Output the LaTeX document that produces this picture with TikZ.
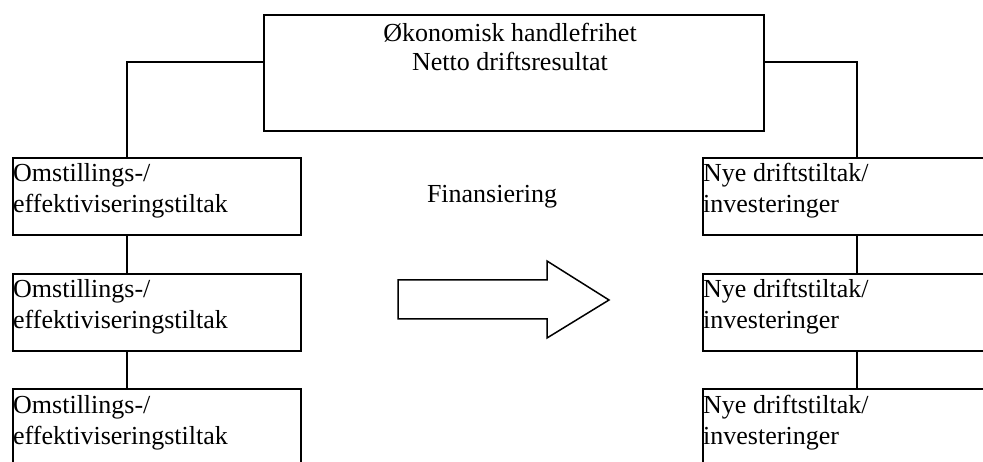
\documentclass[tikz,border=0pt]{standalone}
\usepackage{fontspec}
\setmainfont{Liberation Serif}
\begin{document}
\begin{tikzpicture}[x=1pt, y=-1pt,
    boxed/.style={draw, line width=1.7pt, rectangle, inner sep=0pt,
      minimum width=288pt, minimum height=77pt, anchor=north west},
    label/.style={inner sep=0pt, font=\fontsize{26}{31}\selectfont},
    link/.style={line width=1.5pt}]
  \useasboundingbox (0,0) rectangle (983,462);
  \clip (0,0) rectangle (983,462);

  % top box (the base anchor of a two-line label sits on its last line)
  \node[boxed, minimum width=500pt, minimum height=116pt] (top) at (263,14) {};
  \node[label, align=center, anchor=base,
        font=\fontsize{26}{29}\selectfont] (toptext) at (510,71)
    {Økonomisk handlefrihet\\Netto driftsresultat};

  % left column
  \foreach \i/\y in {1/157, 2/273, 3/388} {
    \node[boxed] (l\i) at (12,\y) {};
    \node[label, align=left, anchor=base west] (lt\i) at (13,\y+56)
      {Omstillings-/\\effektiviseringstiltak};
  }

  % right column
  \foreach \i/\y in {1/157, 2/273, 3/388} {
    \node[boxed] (r\i) at (702,\y) {};
    \node[label, align=left, anchor=base west] (rt\i) at (703,\y+56)
      {Nye driftstiltak/\\investeringer};
  }

  % connectors
  \draw[link] ([yshift=-48pt]top.north west) -| ([xshift=115pt]l1.north west);
  \draw[link] ([xshift=115pt]l1.south west) -- ([xshift=115pt]l2.north west);
  \draw[link] ([xshift=115pt]l2.south west) -- ([xshift=115pt]l3.north west);
  \draw[link] ([yshift=-48pt]top.north east) -| ([xshift=155pt]r1.north west);
  \draw[link] ([xshift=155pt]r1.south west) -- ([xshift=155pt]r2.north west);
  \draw[link] ([xshift=155pt]r2.south west) -- ([xshift=155pt]r3.north west);

  % financing label and block arrow
  \node[label, anchor=base] (fin) at (492,203) {Finansiering};
  \draw[line width=1.5pt, line join=miter]
    (398,280) -- (547,280) -- (547,261) -- (609,300) -- (547,338)
    -- (547,319) -- (398,319) -- cycle;
\end{tikzpicture}
\end{document}
